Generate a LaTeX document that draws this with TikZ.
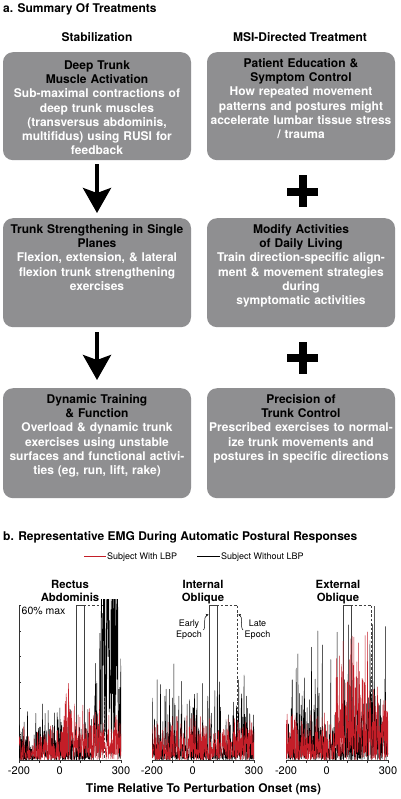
\documentclass[tikz,border=0pt]{standalone}
\usepackage{fontspec}
\setmainfont{TeX Gyre Heros}
\usetikzlibrary{arrows.meta,calc}
\definecolor{boxgray}{RGB}{143,143,145}
\definecolor{emgred}{RGB}{196,30,40}
\begin{document}
\begin{tikzpicture}[x=1pt,y=-1pt,
 tbox/.style={fill=boxgray, rounded corners=10pt, text width=186pt, inner xsep=1pt, inner ysep=5pt, align=center, anchor=north, text height=10pt, font=\bfseries\fontsize{12}{14.3}\selectfont},
 bodytxt/.style={text=white, text width=186pt, inner sep=0pt, align=center, anchor=north, text height=10pt, font=\bfseries\fontsize{12}{14.3}\selectfont},
 hdr/.style={font=\bfseries\fontsize{12}{14.4}\selectfont, inner sep=0pt},
 bigarrow/.style={line width=4pt, -{Stealth[length=25pt,width=28pt,inset=5pt]}},
 plussign/.style={fill=black},
 ptitle/.style={font=\bfseries\fontsize{11.3}{13}\selectfont, align=center, inner sep=0pt, anchor=north},
 smalltxt/.style={font=\fontsize{9}{11}\selectfont, inner sep=0pt},
 ticklab/.style={font=\fontsize{11}{13}\selectfont, inner sep=0pt, anchor=base},
 axisline/.style={line width=0.4pt, black!80},
 rectsolid/.style={line width=0.6pt, draw=black!75},
 rectdash/.style={line width=0.6pt, draw=black!75, dash pattern=on 2.6pt off 1.8pt},
 emgblk/.style={line width=0.45pt, draw=black, line join=round},
 emgr/.style={line width=0.45pt, draw=emgred, line join=round},
 epocharrow/.style={line width=0.5pt, -{Stealth[length=2.6pt,width=2.6pt]}},
 legline/.style={line width=1pt},
]
\useasboundingbox (0,0) rectangle (400,799);
\fill[white] (0,0) rectangle (400,799);

% ---------- part a ----------
\node[hdr, anchor=base west] (ta) at (3,12.5) {a. Summary Of Treatments};
\node[hdr, anchor=base] (hstab) at (97,42) {Stabilization};
\node[hdr, anchor=base] (hmsi) at (300,42) {MSI-Directed Treatment};

\node[tbox, text height=12pt, text depth=86pt] (L1) at (97,52) {Deep Trunk\\Muscle Activation};
\node[tbox, text depth=88pt] (R1) at (301,52) {Patient Education \&\\Symptom Control};
\node[tbox, text depth=89pt] (L2) at (97,218) {Trunk Strengthening in Single\\Planes};
\node[tbox, text depth=89pt] (R2) at (301,218) {Modify Activities\\of Daily Living};
\node[tbox, text depth=90pt] (L3) at (97,388) {Dynamic Training\\\& Function};
\node[tbox, text depth=90pt] (R3) at (301,388) {Precision of\\Trunk Control};

\node[bodytxt] (L1b) at ($(L1.north)+(0,35.6)$) {Sub-maximal contractions of\\deep trunk muscles\\(transversus abdominis,\\multifidus) using RUSI for\\feedback};
\node[bodytxt] (R1b) at ($(R1.north)+(0,33.6)$) {How repeated movement\\patterns and postures might\\accelerate lumbar tissue stress\\/ trauma};
\node[bodytxt] (L2b) at ($(L2.north)+(0,33.6)$) {Flexion, extension, \& lateral\\flexion trunk strengthening\\exercises};
\node[bodytxt] (R2b) at ($(R2.north)+(0,33.6)$) {Train direction-specific align-\\ment \& movement strategies\\during\\symptomatic activities};
\node[bodytxt] (L3b) at ($(L3.north)+(0,33.6)$) {Overload \& dynamic trunk\\exercises using unstable\\surfaces and functional activi-\\ties (eg, run, lift, rake)};
\node[bodytxt] (R3b) at ($(R3.north)+(0,33.6)$) {Prescribed exercises to normal-\\ize trunk movements and\\postures in specific directions};

\draw[bigarrow] ($(L1.south)+(0,4)$) -- ($(L2.north)+(0,-5)$);
\draw[bigarrow] ($(L2.south)+(0,5)$) -- ($(L3.north)+(0,-8)$);

\fill[plussign] (287,188) rectangle (318,196);
\fill[plussign] (299,175) rectangle (307,207);
\fill[plussign] (287,354) rectangle (318,362);
\fill[plussign] (299,342) rectangle (307,374);

% ---------- part b ----------
\node[hdr, anchor=base west] (tb) at (3,540) {b. Representative EMG During Automatic Postural Responses};

\node[smalltxt, anchor=base west] (legR) at (107,559.5) {Subject With LBP};
\node[smalltxt, anchor=base west] (legB) at (221,559.5) {Subject Without LBP};
\coordinate (lr) at (84,556);
\coordinate (lb) at (197,556);
\draw[legline, emgred] (lr) -- ($(lr -| legR.west)+(-1.5,0)$);
\draw[legline, black] (lb) -- ($(lb -| legB.west)+(-1,0)$);

\node[ptitle] (pt1) at (70,580) {Rectus\\Abdominis};
\node[ptitle] (pt2) at (203,580) {Internal\\Oblique};
\node[ptitle] (pt3) at (338,580) {External\\Oblique};

\node[font=\fontsize{10.5}{12}\selectfont, inner sep=0pt, anchor=base west] (max) at (21.5,614) {60\% max};

% Panel 1
\begin{scope}[shift={(59.8,760)}, x=0.204pt, y=2.583pt]
 \draw[rectsolid] (80,0) rectangle (120,60);
 \draw[rectdash] (120,0) rectangle (220,60);
 \draw[axisline] (-200,0) -- (300,0);
 \foreach \k in {-200,-100,...,300} \draw[axisline] (\k,0) -- (\k,-1);
 \draw[axisline] (-200,0) -- (-200,60);
 \foreach \k in {0,10,...,60} \draw[axisline] (-200,\k) -- (-188,\k);
 \begin{scope}
  \clip (-200,-0.6) rectangle (300,62);
  \pgfmathsetseed{11}
  \draw[emgblk] plot[domain=-200:300, samples=420, variable=\t] (\t,{(\t<150)*35*rnd*rnd*rnd + (\t>=150)*(\t<200)*(20+(\t-150)*1.0)*rnd*rnd + (\t>=200)*(\t<285)*85*rnd + (\t>=285)*45*rnd*rnd});
  \pgfmathsetseed{23}
  \draw[emgr] plot[domain=-200:300, samples=420, variable=\t] (\t,{(16 + 30*max(0,1-abs(\t-40)/18) + (\t>0)*10)*rnd*rnd});
 \end{scope}
 \node[ticklab] (x1a) at (-200,-5.8) {-200};
 \node[ticklab] (x1b) at (0,-5.8) {0};
 \node[ticklab] (x1c) at (300,-5.8) {300};
\end{scope}

% Panel 2
\begin{scope}[shift={(192.8,760)}, x=0.204pt, y=2.583pt]
 \draw[rectsolid] (80,0) rectangle (120,60);
 \draw[rectdash] (120,0) rectangle (220,60);
 \draw[axisline] (-200,0) -- (300,0);
 \foreach \k in {-200,-100,...,300} \draw[axisline] (\k,0) -- (\k,-1);
 \coordinate (earlyend) at (77,56.3);
 \coordinate (lateend) at (223,56.3);
 \begin{scope}
  \clip (-200,-0.6) rectangle (300,62);
  \pgfmathsetseed{37}
  \draw[emgblk] plot[domain=-200:300, samples=420, variable=\t] (\t,{(45 + (\t>205)*(\t<280)*35)*rnd*rnd*rnd});
  \pgfmathsetseed{41}
  \draw[emgr] plot[domain=-200:300, samples=420, variable=\t] (\t,{20*rnd*rnd});
 \end{scope}
 \node[ticklab] (x2a) at (-200,-5.8) {-200};
 \node[ticklab] (x2b) at (0,-5.8) {0};
 \node[ticklab] (x2c) at (300,-5.8) {300};
\end{scope}

% Panel 3
\begin{scope}[shift={(326.8,760)}, x=0.204pt, y=2.583pt]
 \draw[rectsolid] (80,0) rectangle (120,60);
 \draw[rectdash] (120,0) rectangle (220,60);
 \draw[axisline] (-200,0) -- (300,0);
 \foreach \k in {-200,-100,...,300} \draw[axisline] (\k,0) -- (\k,-1);
 \begin{scope}
  \clip (-200,-0.6) rectangle (300,62);
  \pgfmathsetseed{53}
  \draw[emgblk] plot[domain=-200:300, samples=420, variable=\t] (\t,{(65 + (\t>100)*(\t<200)*20 + (\t>=200)*(\t<260)*70)*rnd*rnd*rnd});
  \pgfmathsetseed{67}
  \draw[emgr] plot[domain=-200:300, samples=420, variable=\t] (\t,{(20 + (\t>40)*(\t<220)*42 + (\t>=220)*14)*rnd*rnd});
 \end{scope}
 \node[ticklab] (x3a) at (-200,-5.8) {-200};
 \node[ticklab] (x3b) at (0,-5.8) {0};
 \node[ticklab] (x3c) at (300,-5.8) {300};
\end{scope}

% epoch labels
\node[smalltxt, align=center, anchor=north] (early) at (189,620) {Early\\Epoch};
\node[smalltxt, align=center, anchor=north] (late) at (257.5,620) {Late\\Epoch};
\draw[epocharrow] ($(early.east)+(1.5,0)$) .. controls (206,628) and (203,616) .. (earlyend);
\draw[epocharrow] ($(late.west)+(-1.5,0)$) .. controls (240,628) and (243,616) .. (lateend);

\node[hdr, anchor=base] (xlab) at (203.5,792) {Time Relative To Perturbation Onset (ms)};
\end{tikzpicture}
\end{document}
